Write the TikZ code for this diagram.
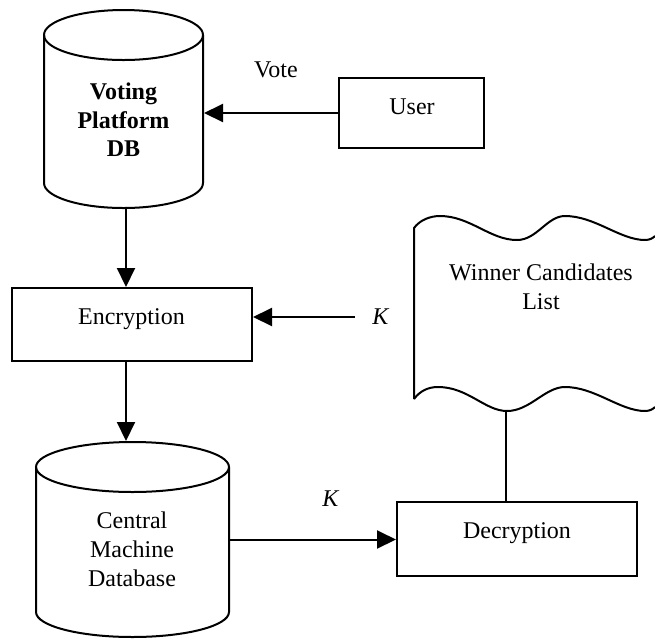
\documentclass[tikz,border=0pt]{standalone}
\usepackage{fontspec}
\setmainfont{Liberation Serif}
\usetikzlibrary{arrows.meta, positioning}

\begin{document}
\begin{tikzpicture}[x=0.5pt, y=-0.5pt, line width=1pt,
  font=\fontsize{12}{14.5}\selectfont,
  box/.style={draw, rectangle, inner sep=0pt},
  dbarea/.style={rectangle, inner sep=0pt},
  arr/.style={-{Triangle[length=9.5pt, width=9pt]}}]

\useasboundingbox (0,0) rectangle (655,639);

% Define databases (outline drawn below)
\node[dbarea, minimum width=79.5pt, minimum height=99pt] (vdb) at (123.5,109) {};
\node[dbarea, minimum width=96.5pt, minimum height=97.5pt] (cmd) at (132.5,539.5) {};

% Cylinder outlines
\draw (44,183) -- (44,35) (203,35) -- (203,183)
      arc[start angle=0, end angle=180, x radius=79.5, y radius=25];
\draw (123.5,35) ellipse [x radius=79.5, y radius=25];
\draw (36,612) -- (36,467) (229,467) -- (229,612)
      arc[start angle=0, end angle=180, x radius=96.5, y radius=25];
\draw (132.5,467) ellipse [x radius=96.5, y radius=25];

% Define process boxes
\node[box, minimum width=72.5pt, minimum height=35pt] (user) at (411.5,113) {};
\node[box, minimum width=120pt, minimum height=36.5pt] (enc) at (132,324.5) {};
\node[box, minimum width=120pt, minimum height=37pt] (dec) at (517,539) {};

% Winner list (punched tape shape)
\draw (414,399) -- (414,228)
  .. controls (420,220) and (430,216) .. (440,216)
  .. controls (470,216) and (490,240) .. (517,240)
  .. controls (537,240) and (547,216) .. (565,216)
  .. controls (595,216) and (620,240) .. (645,240)
  .. controls (650,240) and (653,238) .. (655,236);
\draw (414,399)
  .. controls (420,391) and (428,387) .. (438,387)
  .. controls (468,387) and (485,411) .. (507,411)
  .. controls (530,411) and (545,387) .. (565,387)
  .. controls (595,387) and (620,411) .. (645,411)
  .. controls (650,411) and (653,409) .. (655,407);
\coordinate (wclbot) at (506,411);

% Labels
\node[font=\fontsize{12}{14.25}\selectfont\bfseries, align=center] (vdbtxt) at (123.5,120) {Voting\\Platform\\DB};
\node[align=center] (cmdtxt) at (132,549) {Central\\Machine\\Database};
\node[align=center] (wcltxt) at (541,287) {Winner Candidates\\List};
\node[anchor=base] (usertxt) at (412,114) {User};
\node[anchor=base] (enctxt) at (131.5,324) {Encryption};
\node[anchor=base] (dectxt) at (517,538) {Decryption};
\node[anchor=base] (vote) at (276,77) {Vote};
\node[anchor=base] (kenc) at (381,324) {\textit{K}};
\node[anchor=base] (kdec) at (331,506) {\textit{K}};

% Connections
\coordinate (vx) at (126,0);
\coordinate (kencstart) at (355,317);
\draw[arr] (user.west) -- (user.west -| vdb.east);
\draw[arr] (vdb.south -| vx) -- (enc.north -| vx);
\draw[arr] (kencstart) -- (kencstart -| enc.east);
\draw[arr] (enc.south -| vx) -- (cmd.north -| vx);
\draw[arr] (cmd.east) -- (cmd.east -| dec.west);
\draw (dec.north -| wclbot) -- (wclbot);

\end{tikzpicture}
\end{document}
